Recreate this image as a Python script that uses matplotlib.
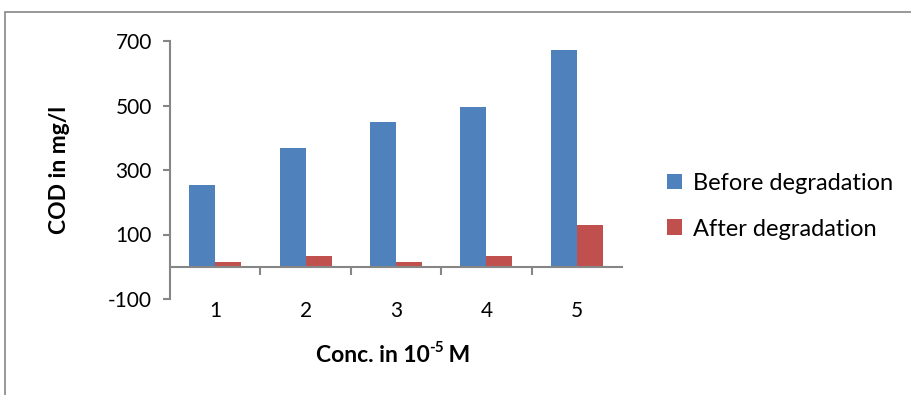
import matplotlib
matplotlib.use('Agg')
import matplotlib.pyplot as plt
import numpy as np
from matplotlib.patches import Rectangle

plt.rcParams['font.family'] = ['Lato', 'DejaVu Sans']
plt.rcParams['axes.unicode_minus'] = False

categories = ['1', '2', '3', '4', '5']
before = [253, 368, 448, 495, 672]
after = [15, 33, 15, 33, 129]

blue = '#4F81BD'
red = '#C0504D'
grey = '#868686'

fig = plt.figure(figsize=(9.11, 3.95), dpi=100)
# outer chart border (only left and top visible in the reference)
fig.patches.append(Rectangle((5 / 911, -0.1), 1.2, 1 - 12 / 395 + 0.1, transform=fig.transFigure,
                             fill=False, edgecolor=grey, linewidth=1.2))

ax = fig.add_axes([170 / 911, 1 - 299 / 395, (622 - 170) / 911, (299 - 41) / 395])

x = np.arange(1, len(categories) + 1)
width = 0.287
ax.bar(x - width / 2, before, width, color=blue, label='Before degradation')
ax.bar(x + width / 2, after, width, color=red, label='After degradation')

ax.set_xlim(0.5, 5.5)
ax.set_ylim(-100, 700)
ax.set_yticks([-100, 100, 300, 500, 700])

for s in ['top', 'right']:
    ax.spines[s].set_visible(False)
ax.spines['bottom'].set_position(('data', 0))
ax.spines['bottom'].set_color(grey)
ax.spines['left'].set_color(grey)
ax.spines['bottom'].set_linewidth(1.5)
ax.spines['left'].set_linewidth(1.5)

ax.set_xticks(x)
ax.set_xticklabels(categories)
ax.set_xticks(np.arange(1.5, 5.0, 1.0), minor=True)
ax.tick_params(axis='x', which='major', length=0, pad=25, labelsize=15)
ax.tick_params(axis='x', which='minor', length=6, width=1.5, color=grey, direction='out')
ax.tick_params(axis='y', length=5, width=1.5, color=grey, direction='out', labelsize=15, pad=8)

ax.set_ylabel('COD in mg/l', fontsize=16.5, fontweight='bold')
ax.yaxis.set_label_coords((70 - 170) / (622 - 170), 0.5)

# x label with a hyphen superscript, built from pieces
fig.canvas.draw()
r = fig.canvas.get_renderer()
xl_y = 1 - 355 / 395
p1 = fig.text(0, xl_y, 'Conc. in 10', fontsize=16.5, fontweight='bold', va='center')
p2 = fig.text(0, xl_y + 7 / 395, '-5', fontsize=11, fontweight='bold', va='center')
p3 = fig.text(0, xl_y, ' M', fontsize=16.5, fontweight='bold', va='center')
w = [p.get_window_extent(r).width for p in (p1, p2, p3)]
x0 = 394 - sum(w) / 2
p1.set_x(x0 / 911)
p2.set_x((x0 + w[0] - 1) / 911)
p3.set_x((x0 + w[0] + w[1] - 2) / 911)

ax.legend(loc='upper left', bbox_to_anchor=(655 / 911, 1 - 161 / 395), bbox_transform=fig.transFigure,
          frameon=False, fontsize=17, handlelength=0.65, handleheight=0.65, handletextpad=0.45,
          labelspacing=1.05, borderpad=0)

plt.savefig('out.png', dpi=100)
